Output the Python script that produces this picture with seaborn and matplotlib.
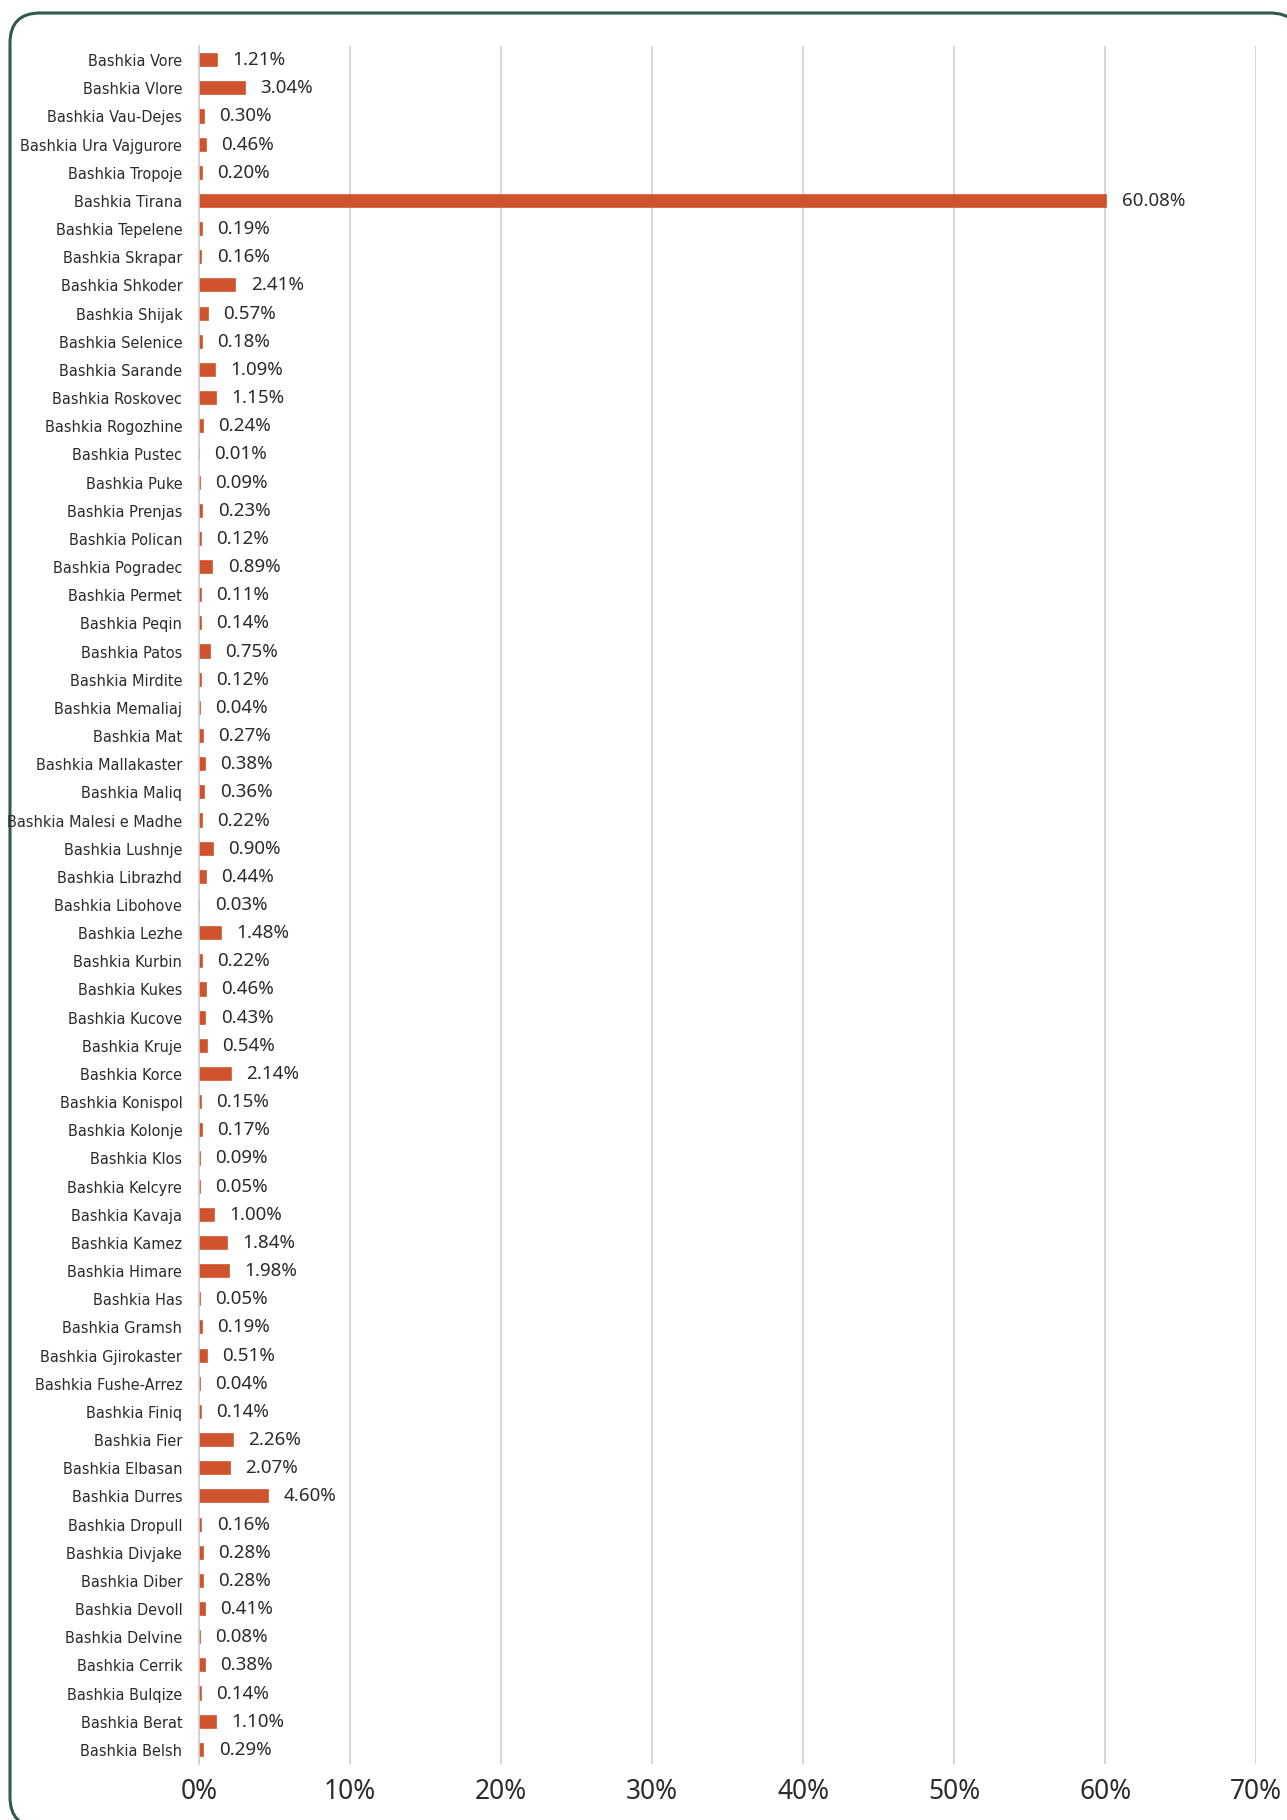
import pandas as pd
import matplotlib.pyplot as plt
import seaborn as sns
from matplotlib import font_manager
from matplotlib.patches import FancyBboxPatch
from matplotlib.transforms import IdentityTransform

# Bashkite dhe perqindjet (nga lart poshte)
bashkite = [
    'Vore', 'Vlore', 'Vau-Dejes', 'Ura Vajgurore', 'Tropoje', 'Tirana', 'Tepelene',
    'Skrapar', 'Shkoder', 'Shijak', 'Selenice', 'Sarande', 'Roskovec', 'Rogozhine',
    'Pustec', 'Puke', 'Prenjas', 'Polican', 'Pogradec', 'Permet', 'Peqin', 'Patos',
    'Mirdite', 'Memaliaj', 'Mat', 'Mallakaster', 'Maliq', 'Malesi e Madhe', 'Lushnje',
    'Librazhd', 'Libohove', 'Lezhe', 'Kurbin', 'Kukes', 'Kucove', 'Kruje', 'Korce',
    'Konispol', 'Kolonje', 'Klos', 'Kelcyre', 'Kavaja', 'Kamez', 'Himare', 'Has',
    'Gramsh', 'Gjirokaster', 'Fushe-Arrez', 'Finiq', 'Fier', 'Elbasan', 'Durres',
    'Dropull', 'Divjake', 'Diber', 'Devoll', 'Delvine', 'Cerrik', 'Bulqize', 'Berat',
    'Belsh',
]
perqindje = [
    1.21, 3.04, 0.30, 0.46, 0.20, 60.08, 0.19,
    0.16, 2.41, 0.57, 0.18, 1.09, 1.15, 0.24,
    0.01, 0.09, 0.23, 0.12, 0.89, 0.11, 0.14, 0.75,
    0.12, 0.04, 0.27, 0.38, 0.36, 0.22, 0.90,
    0.44, 0.03, 1.48, 0.22, 0.46, 0.43, 0.54, 2.14,
    0.15, 0.17, 0.09, 0.05, 1.00, 1.84, 1.98, 0.05,
    0.19, 0.51, 0.04, 0.14, 2.26, 2.07, 4.60,
    0.16, 0.28, 0.28, 0.41, 0.08, 0.38, 0.14, 1.10,
    0.29,
]
x_ticks = [0, 10, 20, 30, 40, 50, 60, 70]

df = pd.DataFrame({'bashkia': ['Bashkia ' + b for b in bashkite], 'perqindje': perqindje})

sns.set_style('white')
plt.rcParams['font.family'] = ['Noto Sans', 'DejaVu Sans']
text_color = '#2b2b2b'
bar_color = '#cf532c'

fig = plt.figure(figsize=(12.87, 18.2), dpi=100)
ax = fig.add_axes([0.1546, 0.0308, 0.8214, 0.9439])

sns.barplot(data=df, x='perqindje', y='bashkia', orient='h', color=bar_color,
            width=0.43, saturation=1, edgecolor=bar_color, linewidth=1.2, ax=ax)

ax.set_xlim(0, 70)
ax.set_ylim(len(df) - 0.5, -0.5)
ax.set_xticks(x_ticks)
ax.set_xticklabels([f'{t}%' for t in x_ticks], fontsize=19, color=text_color)
ax.tick_params(axis='x', length=0, pad=10)
ax.tick_params(axis='y', length=0, pad=12)

# emrat me germa te ngushta
narrow = font_manager.FontProperties(family='DejaVu Sans', stretch='condensed', size=11.6)
for lbl in ax.get_yticklabels():
    lbl.set_fontproperties(narrow)
    lbl.set_color(text_color)
ax.set_xlabel('')
ax.set_ylabel('')
ax.grid(axis='x', color='#d0d0d0', linewidth=1.2)
ax.set_axisbelow(True)
for s in ['top', 'right', 'bottom']:
    ax.spines[s].set_visible(False)
ax.spines['left'].set_color('#d0d0d0')
ax.spines['left'].set_linewidth(1.2)

ax.bar_label(ax.containers[0], labels=[f'{v:.2f}%' for v in perqindje],
             padding=11, fontsize=13.5, color=text_color)

# korniza e rrumbullaket (e mbushur me te bardhe qe kendet te mos priten keq)
frame = FancyBboxPatch((10, -7), 1290, 1814, boxstyle='round,pad=0,rounding_size=30',
                       transform=IdentityTransform(), facecolor='white',
                       edgecolor='#2f5a4f', linewidth=2.2, zorder=-1)
fig.patches.append(frame)

fig.savefig('out.png', dpi=100)
